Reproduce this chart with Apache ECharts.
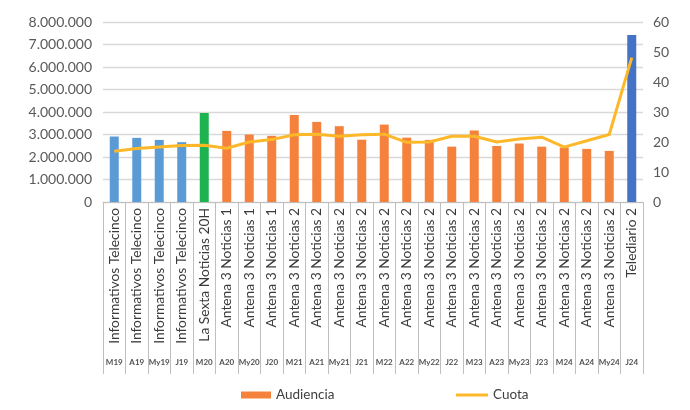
<!DOCTYPE html>
<html><head><meta charset="utf-8">
<script src="https://cdn.jsdelivr.net/npm/echarts@6/dist/echarts.min.js"></script>
<style>html,body{margin:0;padding:0;background:#fff}#c{width:690px;height:410px}</style>
</head><body><div id="c"></div>
<script>
const programs = ["Informativos Telecinco","Informativos Telecinco","Informativos Telecinco","Informativos Telecinco","La Sexta Noticias 20H","Antena 3 Noticias 1","Antena 3 Noticias 1","Antena 3 Noticias 1","Antena 3 Noticias 2","Antena 3 Noticias 2","Antena 3 Noticias 2","Antena 3 Noticias 2","Antena 3 Noticias 2","Antena 3 Noticias 2","Antena 3 Noticias 2","Antena 3 Noticias 2","Antena 3 Noticias 2","Antena 3 Noticias 2","Antena 3 Noticias 2","Antena 3 Noticias 2","Antena 3 Noticias 2","Antena 3 Noticias 2","Antena 3 Noticias 2","Telediario 2"];
const months = ["M19","A19","My19","J19","M20","A20","My20","J20","M21","A21","My21","J21","M22","A22","My22","J22","M23","A23","My23","J23","M24","A24","My24","J24"];
const audiencia = [2910000,2850000,2760000,2660000,3960000,3160000,3000000,2940000,3870000,3560000,3370000,2770000,3440000,2860000,2760000,2460000,3180000,2490000,2600000,2460000,2420000,2360000,2270000,7420000];
const cuota = [16.9,17.8,18.3,18.8,18.9,17.9,20.0,20.8,22.4,22.6,21.9,22.4,22.6,19.9,20.0,21.9,21.9,20.0,21.0,21.6,18.3,20.4,22.5,48.1];

const colorFor = p => p.startsWith("Informativos") ? "#5B9BD5" : p.startsWith("La Sexta") ? "#1DB34F" : p.startsWith("Telediario") ? "#4472C4" : "#F4823C";
const font = "Lato";
const chart = echarts.init(document.getElementById('c'), null, {renderer:'canvas'});
chart.setOption({
  animation:false,
  textStyle:{fontFamily:font},
  grid:{left:103,right:47,top:22,bottom:208},
  legend:[
    {left:236,top:383,itemWidth:30,itemHeight:7,icon:'rect',data:['Audiencia'],textStyle:{fontSize:13.5,color:'#404040',fontFamily:font},itemGap:6},
    {left:451,top:383,itemWidth:32,itemHeight:3,icon:'rect',data:['Cuota'],textStyle:{fontSize:13.5,color:'#404040',fontFamily:font}}
  ],
  xAxis:[
    {type:'category',data:programs,position:'bottom',
     axisLine:{lineStyle:{color:'#bfbfbf',width:1}},
     axisTick:{show:true,length:172,lineStyle:{color:'#bfbfbf'}},
     axisLabel:{rotate:90,interval:0,margin:6,fontSize:13.8,color:'#3a3a3a',fontFamily:font}},
    {type:'category',data:months,position:'bottom',
     axisLine:{show:false},axisTick:{show:false},
     axisLabel:{interval:0,margin:156,fontSize:8,fontWeight:'bold',color:'#505050',fontFamily:font}}
  ],
  yAxis:[
    {type:'value',min:0,max:8000000,interval:1000000,
     axisLine:{show:false},axisTick:{show:false},
     splitLine:{lineStyle:{color:'#d9d9d9',width:1.3}},
     axisLabel:{fontSize:14,color:'#595959',margin:11,fontFamily:font,
       formatter:v=>v===0?'0':v.toString().replace(/\B(?=(\d{3})+(?!\d))/g,'.')}},
    {type:'value',min:0,max:60,interval:10,position:'right',
     axisLine:{show:false},axisTick:{show:false},splitLine:{show:false},
     axisLabel:{fontSize:14,color:'#595959',margin:10,fontFamily:font}}
  ],
  series:[
    {name:'Audiencia',type:'bar',barWidth:9,xAxisIndex:0,yAxisIndex:0,
     itemStyle:{color:'#F4823C'},
     data:audiencia.map((v,i)=>({value:v,itemStyle:{color:colorFor(programs[i])}}))},
    {name:'Cuota',type:'line',xAxisIndex:0,yAxisIndex:1,showSymbol:false,symbol:'none',
     itemStyle:{color:'#FDB82A'},lineStyle:{color:'#FDB82A',width:3,join:'round'},
     data:cuota}
  ]
});
</script></body></html>
